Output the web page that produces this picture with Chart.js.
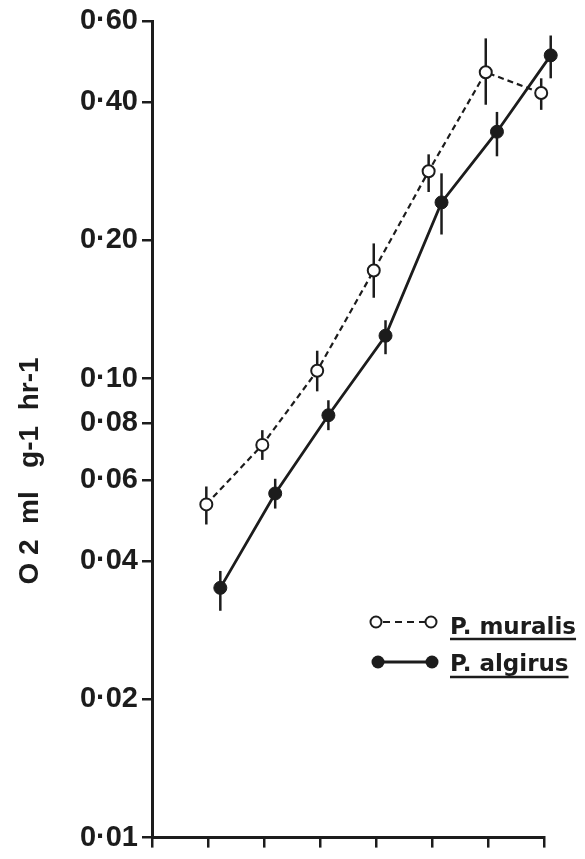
<!DOCTYPE html>
<html>
<head>
<meta charset="utf-8">
<script src="https://cdn.jsdelivr.net/npm/chart.js@4.4.1/dist/chart.umd.min.js"></script>
<style>
  html, body { margin: 0; padding: 0; background: #fff; }
  #wrap { width: 585px; height: 859px; }
</style>
</head>
<body>
<div id="wrap"><canvas id="chart" width="585" height="859"></canvas></div>
<script>
// oxygen consumption, O2 ml g-1 hr-1 (log axis)
const yTicks = [0.01, 0.02, 0.04, 0.06, 0.08, 0.10, 0.20, 0.40, 0.60];

// P. muralis (open circles, dashed)
const muralisX  = [0.97, 1.97, 2.95, 3.96, 4.94, 5.96, 6.95];
const muralisY  = [0.0532, 0.0717, 0.104, 0.172, 0.283, 0.465, 0.419];
const muralisLo = [0.0481, 0.0665, 0.0938, 0.150, 0.255, 0.395, 0.385];
const muralisHi = [0.0582, 0.0772, 0.115, 0.197, 0.308, 0.551, 0.451];

// P. algirus (filled circles, solid)
const algirusX  = [1.22, 2.20, 3.15, 4.17, 5.17, 6.16, 7.12];
const algirusY  = [0.0350, 0.0562, 0.0832, 0.124, 0.242, 0.345, 0.506];
const algirusLo = [0.0312, 0.0521, 0.0772, 0.113, 0.206, 0.305, 0.451];
const algirusHi = [0.0381, 0.0605, 0.0897, 0.134, 0.280, 0.381, 0.559];

const ink = '#1c1c1c';

function pts(xs, ys) {
  return xs.map((x, i) => ({ x: x, y: ys[i] }));
}

const errorBars = {
  id: 'errorBars',
  beforeDatasetsDraw(chart) {
    const ctx = chart.ctx, sx = chart.scales.x, sy = chart.scales.y;
    ctx.save();
    ctx.strokeStyle = ink;
    ctx.lineWidth = 2.5;
    [[muralisX, muralisLo, muralisHi], [algirusX, algirusLo, algirusHi]].forEach(([xs, lo, hi]) => {
      xs.forEach((v, i) => {
        const px = sx.getPixelForValue(v);
        ctx.beginPath();
        ctx.moveTo(px, sy.getPixelForValue(lo[i]));
        ctx.lineTo(px, sy.getPixelForValue(hi[i]));
        ctx.stroke();
      });
    });
    ctx.restore();
  }
};

const yTitle = {
  id: 'yTitle',
  afterDraw(chart) {
    const ctx = chart.ctx;
    ctx.save();
    ctx.translate(38, 471);
    ctx.rotate(-Math.PI / 2);
    ctx.fillStyle = ink;
    ctx.font = 'bold 28px "Liberation Sans", Arial, sans-serif';
    ctx.textAlign = 'center';
    ctx.textBaseline = 'alphabetic';
    ctx.fillText('O 2  ml   g-1  hr-1', 0, 0);
    ctx.restore();
  }
};

const legendBox = {
  id: 'legendBox',
  afterDraw(chart) {
    const ctx = chart.ctx;
    ctx.save();
    ctx.strokeStyle = ink;
    ctx.fillStyle = ink;
    // row 1, P. muralis
    ctx.lineWidth = 2;
    ctx.setLineDash([7, 5]);
    ctx.beginPath(); ctx.moveTo(383, 622); ctx.lineTo(425, 622); ctx.stroke();
    ctx.setLineDash([]);
    [376, 431].forEach(cx => {
      ctx.beginPath(); ctx.arc(cx, 622, 5.5, 0, Math.PI * 2);
      ctx.fillStyle = '#fff'; ctx.fill(); ctx.stroke();
    });
    // row 2, P. algirus
    ctx.lineWidth = 3;
    ctx.beginPath(); ctx.moveTo(378, 662); ctx.lineTo(432, 662); ctx.stroke();
    ctx.fillStyle = ink;
    [378, 432].forEach(cx => {
      ctx.beginPath(); ctx.arc(cx, 662, 6.5, 0, Math.PI * 2); ctx.fill();
    });
    ctx.font = 'bold 23px "DejaVu Sans", sans-serif';
    ctx.textBaseline = 'alphabetic';
    ctx.fillText('P. muralis', 450, 634);
    ctx.fillText('P. algirus', 450, 671);
    ctx.lineWidth = 2.5;
    const w1 = ctx.measureText('P. muralis').width;
    const w2 = ctx.measureText('P. algirus').width;
    ctx.beginPath(); ctx.moveTo(450, 639); ctx.lineTo(450 + w1, 639); ctx.stroke();
    ctx.beginPath(); ctx.moveTo(450, 677); ctx.lineTo(450 + w2, 677); ctx.stroke();
    ctx.restore();
  }
};

new Chart(document.getElementById('chart'), {
  type: 'line',
  data: {
    datasets: [
      {
        label: 'P. muralis',
        data: pts(muralisX, muralisY),
        borderColor: ink,
        borderWidth: 2.2,
        borderDash: [6, 4],
        pointRadius: 6,
        pointBorderWidth: 2,
        pointBackgroundColor: '#fff',
        pointBorderColor: ink,
        tension: 0,
        clip: false
      },
      {
        label: 'P. algirus',
        data: pts(algirusX, algirusY),
        borderColor: ink,
        borderWidth: 2.8,
        pointRadius: 6.5,
        pointBorderWidth: 1,
        pointBackgroundColor: ink,
        pointBorderColor: ink,
        tension: 0,
        clip: false
      }
    ]
  },
  options: {
    responsive: false,
    animation: false,
    layout: { padding: { top: 16, right: 41, left: 0, bottom: 0 } },
    plugins: {
      legend: { display: false },
      tooltip: { enabled: false }
    },
    scales: {
      x: {
        type: 'linear',
        min: 0,
        max: 7,
        afterFit(scale) { scale.height = 20; },
        border: { display: true, color: ink, width: 3 },
        grid: { drawOnChartArea: false, drawTicks: true, tickLength: 10, color: ink, lineWidth: 2.5 },
        ticks: { stepSize: 1, display: false }
      },
      y: {
        type: 'logarithmic',
        min: 0.01,
        max: 0.6,
        afterFit(scale) { scale.width = 152; },
        afterBuildTicks(scale) { scale.ticks = yTicks.map(v => ({ value: v })); },
        border: { display: true, color: ink, width: 3 },
        grid: { drawOnChartArea: false, drawTicks: true, tickLength: 10, color: ink, lineWidth: 2.5 },
        ticks: {
          color: ink,
          padding: 4,
          font: { family: '"Liberation Sans", Arial, sans-serif', size: 29, weight: 'bold' },
          callback: v => v.toFixed(2).replace('.', '·')
        }
      }
    }
  },
  plugins: [errorBars, yTitle, legendBox]
});
</script>
</body>
</html>
